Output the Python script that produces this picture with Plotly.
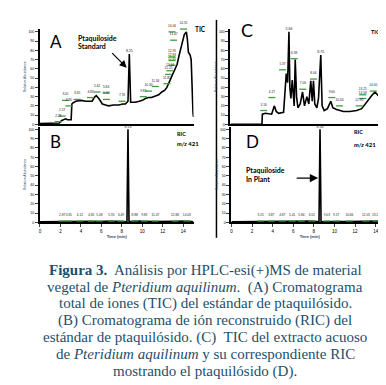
import plotly.graph_objects as go

# ---------------- data ----------------
# Panel A: TIC of ptaquiloside standard
time_a = [0, 1.5, 1.9, 2.1, 2.25, 2.3, 2.5, 2.7, 3.0, 3.05, 3.12, 3.2, 3.5, 4.0, 4.5, 5.1, 5.3, 5.5,
          5.75, 6.1, 6.4, 6.7, 7.2, 7.7, 8.1, 8.35, 8.6, 8.73, 8.86, 9.3, 9.7, 10.0, 10.3, 10.6,
          10.9, 11.3, 11.6, 11.9, 12.2, 12.4, 12.7, 13.05, 13.4, 13.6, 13.86, 14.1, 14.3, 14.4,
          14.5, 14.67, 14.77, 14.87, 14.95, 15.0]
tic_a = [1, 1, 1.5, 4, 5, 5, 6, 5, 5, 5, 22, 23, 25, 26, 25, 25, 29, 31,
         28, 22, 21, 20, 21, 21, 22, 22, 25, 76, 24, 24, 25, 26, 28, 29,
         29, 31, 32, 35, 37, 40, 47, 55, 65, 75, 88, 97, 100, 92,
         78, 75, 70, 30, 12, 8]

# Panel C: TIC of Pteridium aquilinum extract
time_c = [0, 3.0, 3.06, 3.1, 3.4, 4.0, 4.26, 4.45, 4.68, 5.16, 5.32, 5.42, 5.55, 5.68, 5.77, 5.87,
          6.0, 6.1, 6.19, 6.29, 6.42, 6.55, 6.77, 7.0, 7.19, 7.42, 7.61, 7.8, 7.94, 8.06, 8.19,
          8.39, 8.55, 8.77, 8.9, 9.1, 9.42, 9.74, 9.94, 10.3, 10.97, 11.6, 12.26, 12.74, 13.2,
          13.7, 14.03, 14.35, 14.68, 14.84, 15.0, 15.15]
tic_c = [0, 0, 0, 11, 12, 11, 20, 14, 12, 13, 40, 55, 45, 100, 40, 28,
         48, 25, 20, 70, 30, 18, 22, 35, 20, 30, 22, 47, 25, 47, 22,
         18, 28, 75, 20, 15, 17, 25, 18, 16, 14, 14, 15, 17, 24,
         31, 35, 31, 29, 20, 5, 3]

# Panels B and D: RIC m/z 421
time_b = [0, 2.18, 2.82, 3.9, 5.03, 5.81, 6.98, 7.92, 8.5, 8.6, 8.7, 9.25, 10.19, 11.27, 13.2, 14.35, 15.0]
ric_b = [0.5, 1, 1, 1, 1.2, 1, 1.5, 1, 0.5, 100, 0.5, 1.5, 1, 1, 1.2, 1.5, 0.5]
time_d = [0, 2.84, 3.87, 4.94, 5.9, 6.8, 7.8, 8.5, 8.6, 8.7, 9.26, 10.16, 11.45, 13.06, 14.03, 15.15]
ric_d = [0.5, 1, 1, 1, 1.5, 2, 1.5, 0.5, 100, 0.5, 1, 1, 1, 1, 1.5, 0.5]

# peak labels (retention time, label height, text)
lab_a_t = [1.79, 2.18, 2.5, 2.82, 3.64, 4.94, 5.58, 6.46, 6.49, 8.02, 10.1, 10.6, 11.27, 12.4,
           12.56, 12.7, 12.9, 12.9, 12.9, 13.05, 12.9, 14.03]
lab_a_y = [3, 9, 26, 20, 27, 29, 35, 34, 27, 25, 30, 36, 41, 44, 54, 58, 64, 69, 73, 91, 100, 103]
lab_a_s = ["2.28", "2.57", "3.01", "3.36", "3.65", "4.83", "5.42", "5.84", "5.90", "7.76", "9.85",
           "10.30", "11.34", "11.82", "12.25", "12.44", "12.65", "12.83", "12.95", "13.47", "14.06", "14.31"]
lab_c_t = [3.23, 4.03, 5.06, 6.19, 7.03, 8.06, 9.84, 10.58, 12.5, 12.84, 12.84, 13.87]
lab_c_y = [15, 29, 59, 71, 38, 49, 29, 20, 20, 28, 32, 36]
lab_c_s = ["3.16", "4.27", "5.37", "6.38", "7.00", "8.06", "9.60", "10.34", "12.90", "13.58", "13.25", "14.00"]
lab_b_t = [2.18, 2.82, 3.9, 5.03, 5.81, 6.98, 7.92, 9.25, 10.19, 11.27, 13.2, 14.35]
lab_b_s = ["2.87", "3.35", "4.12", "4.81", "5.08", "5.95", "6.49", "8.88", "9.83", "11.47", "12.86", "14.03"]
lab_d_t = [2.84, 3.87, 4.94, 5.9, 6.8, 7.8, 9.26, 10.16, 11.45, 13.06, 14.03]
lab_d_s = ["3.25", "3.87", "4.87", "5.41", "5.84", "6.55", "9.03", "9.57", "10.66", "12.05", "13.29"]
apex_labels = ["8.25", "5.66", "8.70", "8.53", "8.58"]

x_ticks = [0, 2, 4, 6, 8, 10, 12, 14]
y_ticks = [0, 10, 20, 30, 40, 50, 60, 70, 80, 90, 100]

caption = [
    "<b>Figura 3.</b>\u00a0 Análisis por HPLC-esi(+)MS de material",
    "vegetal de <i>Pteridium aquilinum</i>.\u00a0 (A) Cromatograma",
    "total de iones (TIC) del estándar de ptaquilósido.",
    "(B) Cromatograma de ión reconstruido (RIC) del",
    "estándar de ptaquilósido. (C)\u00a0 TIC del extracto acuoso",
    "de <i>Pteridium aquilinum</i> y su correspondiente RIC",
    "mostrando el ptaquilósido (D).",
]

W, H = 386, 385
def px(x):
    return x / W
def py(y):
    return 1 - y / H

GREEN = "#3f9f3f"
fig = go.Figure()

def trace(x, y, ax):
    fig.add_trace(go.Scatter(x=x, y=y, mode="lines", line=dict(color="black", width=1.6),
                             xaxis="x" + ax, yaxis="y" + ax, hoverinfo="skip", showlegend=False))

def labels(t, y, s, ax):
    fig.add_trace(go.Scatter(x=t, y=y, mode="markers+text", text=s, textposition="top center",
                             textfont=dict(size=3.2, color="#222222", family="Liberation Sans"),
                             marker=dict(symbol="line-ew", size=5, line=dict(color=GREEN, width=1.3)),
                             xaxis="x" + ax, yaxis="y" + ax, hoverinfo="skip", showlegend=False,
                             cliponaxis=False))

trace(time_a, tic_a, "")
trace(time_b, ric_b, "2")
trace(time_c, tic_c, "3")
trace(time_d, ric_d, "4")
labels(lab_a_t, lab_a_y, lab_a_s, "")
labels(lab_b_t, [1.5] * len(lab_b_t), lab_b_s, "2")
labels(lab_c_t, lab_c_y, lab_c_s, "3")
labels(lab_d_t, [1.5] * len(lab_d_t), lab_d_s, "4")

# apex labels for the main peaks
apex = [("", 8.73, 77, apex_labels[0]), ("3", 5.68, 101, apex_labels[1]),
        ("3", 8.77, 76, apex_labels[2]), ("2", 8.6, 101, apex_labels[3]), ("4", 8.6, 101, apex_labels[4])]
for ax, t, y, s in apex:
    fig.add_trace(go.Scatter(x=[t], y=[y], mode="text", text=[s], textposition="top center",
                             textfont=dict(size=3.5, color="#222222", family="Liberation Sans"),
                             xaxis="x" + ax, yaxis="y" + ax, hoverinfo="skip", showlegend=False,
                             cliponaxis=False))

yax = dict(range=[0, 103], tickvals=y_ticks, ticks="outside", ticklen=3, tickwidth=1.2,
           showline=True, linewidth=2, linecolor="black", showgrid=False, zeroline=False,
           tickfont=dict(size=3.5, family="Liberation Sans", color="black"),
           title=dict(text="Relative Abundance", font=dict(size=3.5, family="Liberation Sans"), standoff=2))
xax_top = dict(showline=True, linewidth=1.6, linecolor="black", showgrid=False, zeroline=False,
               showticklabels=False, ticks="")
xax_bot = dict(tickvals=x_ticks, ticks="outside", ticklen=3, tickwidth=1.2,
               showline=True, linewidth=2, linecolor="black", showgrid=False, zeroline=False,
               tickfont=dict(size=4.5, family="Liberation Sans", color="black"),
               title=dict(text="<b>Time (min)</b>", font=dict(size=4, family="Liberation Sans"), standoff=2))

yA = [py(117), py(21.2)]
yB = [py(215.5), py(119.2)]
fig.update_layout(
    width=W, height=H, autosize=False,
    margin=dict(l=0, r=0, t=0, b=0),
    paper_bgcolor="white", plot_bgcolor="white",
    xaxis=dict(xax_top, domain=[px(31), px(185)], range=[0, 15], anchor="y"),
    yaxis=dict(yax, domain=yA, anchor="x"),
    xaxis2=dict(xax_bot, domain=[px(31), px(185)], range=[0, 15], anchor="y2"),
    yaxis2=dict(yax, domain=yB, anchor="x2"),
    xaxis3=dict(xax_top, domain=[px(222), px(379)], range=[0, 15.2], anchor="y3"),
    yaxis3=dict(yax, domain=yA, anchor="x3"),
    xaxis4=dict(xax_bot, domain=[px(223), px(380)], range=[0, 15.2], anchor="y4"),
    yaxis4=dict(yax, domain=yB, anchor="x4"),
)

ann = []
def txt(x, y, s, size, xanchor="left", bold=False, family="Lato", color="black"):
    ann.append(dict(x=px(x), y=py(y), xref="paper", yref="paper", text=("<b>%s</b>" % s) if bold else s,
                    showarrow=False, xanchor=xanchor, yanchor="middle",
                    font=dict(size=size, family=family, color=color)))

txt(39, 34, "A", 17)
txt(39, 134, "B", 17)
txt(231, 22, "C", 18)
txt(236, 134, "D", 17)
txt(184, 22, "TIC", 6.5, bold=True)
txt(361, 24, "TIC", 5.5, bold=True)
txt(166, 127, "RIC", 5.5, bold=True)
txt(166, 136, "<i>m/z</i> 421", 6, bold=True)
txt(344, 125, "RIC", 5.5, bold=True)
txt(344, 137, "<i>m/z</i> 421", 6, bold=True)
txt(67, 30, "Ptaquiloside", 7, bold=True)
txt(67, 38.5, "Standard", 7, bold=True)
txt(236, 163, "Ptaquiloside", 7, bold=True)
txt(236, 172, "In Plant", 7, bold=True)

# arrows (head position in paper coords, tail offset in pixels)
ann.append(dict(x=px(118), y=py(60), ax=-16, ay=-16, xref="paper", yref="paper",
                axref="pixel", ayref="pixel", showarrow=True, arrowhead=2, arrowsize=1.2,
                arrowwidth=1.2, arrowcolor="black", text=""))
ann.append(dict(x=px(310), y=py(171), ax=-23, ay=0, xref="paper", yref="paper",
                axref="pixel", ayref="pixel", showarrow=True, arrowhead=2, arrowsize=1.2,
                arrowwidth=1.4, arrowcolor="black", text=""))

cap_y = [263.5, 280.5, 297, 314, 331, 348, 365]
for s, y in zip(caption, cap_y):
    ann.append(dict(x=px(197), y=py(y), xref="paper", yref="paper", text=s, showarrow=False,
                    xanchor="center", yanchor="middle",
                    font=dict(size=15, family="Liberation Serif", color="#1d4f6b")))

fig.update_layout(annotations=ann,
                  shapes=[dict(type="line", xref="paper", yref="paper", x0=px(208), x1=px(208),
                               y0=py(12), y1=py(231), line=dict(color="black", width=1.5))])

fig.write_html("out.html")
